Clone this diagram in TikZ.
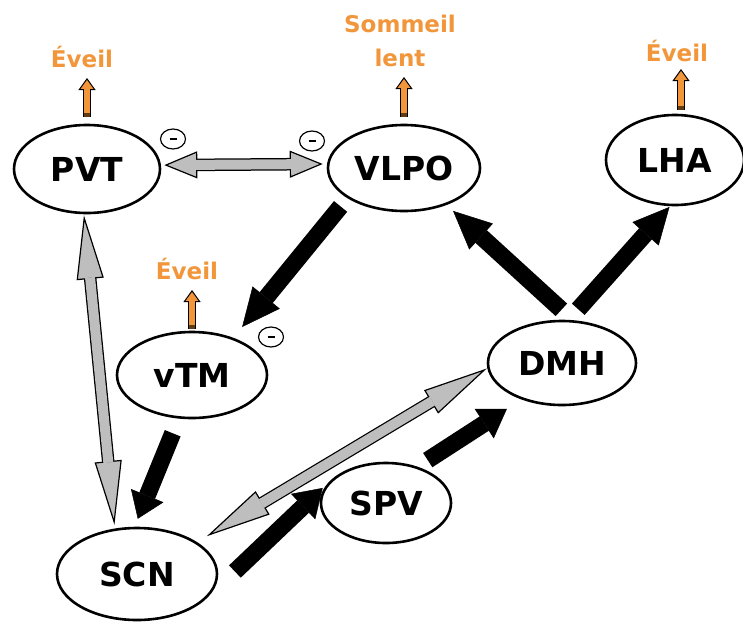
\documentclass[tikz,border=0pt]{standalone}
\usepackage{fontspec}
\setmainfont{DejaVu Sans}
\usetikzlibrary{arrows.meta,shapes.geometric}

\definecolor{wakeorange}{RGB}{241,150,58}
\definecolor{wakebrown}{RGB}{95,60,20}
\definecolor{linkgray}{RGB}{190,190,190}

\tikzset{
  area/.style={ellipse, draw, line width=2.6pt, inner sep=0pt, font=\fontsize{33}{33}\selectfont\bfseries},
  wake/.style={text=wakeorange, inner sep=0pt, align=center, font=\fontsize{23}{34}\selectfont\bfseries},
  minus/.style={ellipse, draw, line width=1.2pt, minimum width=25pt, minimum height=20pt, inner sep=0pt},
  drive/.style={line width=17pt, -{Triangle[length=#1, width=35pt, line width=0.5pt]}},
  drive/.default=30pt,
  link rim/.style={line width=12.5pt, {Triangle[length=#1, width=27pt, line width=1.2pt, fill=linkgray]}-{Triangle[length=#1, width=27pt, line width=1.2pt, fill=linkgray]}},
  link core/.style={line width=10pt, draw=linkgray},
  wake rim/.style={line width=8.5pt, -{Triangle[length=12pt, width=17pt, line width=1pt, fill=wakeorange]}},
  wake core/.style={line width=6.5pt, draw=wakeorange},
  wake foot/.style={line width=6.5pt, draw=wakebrown, dash pattern=on 4pt off 80pt},
}

% gray double arrow: from, to, shorten start, shorten end, head length
\newcommand\twoway[5]{%
  \draw[link rim=#5, shorten <=#3, shorten >=#4] (#1) -- (#2);
  \draw[link core, shorten <=#3+#5-1.5pt, shorten >=#4+#5-1.5pt] (#1) -- (#2);}
% small orange arrow: from, to, shorten start, shorten end
\newcommand\risearrow[4]{%
  \draw[wake rim, shorten <=#3, shorten >=#4] (#1) -- (#2);
  \draw[wake core, shorten <=#3, shorten >=#4+11pt] (#1) -- (#2);
  \draw[wake foot, shorten <=#3] (#1) -- (#2);}

\begin{document}
\begin{tikzpicture}[x=1pt,y=-1pt]
\useasboundingbox (0,0) rectangle (743,621);

% nuclei
\node[area, minimum width=146pt, minimum height=88pt] (pvt) at (87,169) {PVT};
\node[area, minimum width=152pt, minimum height=86pt] (vlpo) at (404,168) {VLPO};
\node[area, minimum width=138pt, minimum height=90pt] (lha) at (675,160) {LHA};
\node[area, minimum width=150pt, minimum height=86pt] (vtm) at (192,375) {vTM};
\node[area, minimum width=148pt, minimum height=84pt] (dmh) at (562,363) {DMH};
\node[area, minimum width=130pt, minimum height=80pt] (spv) at (386,503) {SPV};
\node[area, minimum width=160pt, minimum height=92pt] (scn) at (137,574) {SCN};

% states
\node[wake, anchor=south] (ev1) at (82,68) {Éveil};
\node[wake, anchor=south] (sl) at (400,67) {Sommeil\\lent};
\node[wake, anchor=south] (ev2) at (677,62) {Éveil};
\node[wake, anchor=south] (ev3) at (187,280) {Éveil};

% inhibition marks
\node[minus] (m1) at (173,139) {\rule{7pt}{1.8pt}};
\node[minus] (m2) at (312,141) {\rule{7pt}{1.8pt}};
\node[minus] (m3) at (271,337) {\rule{7pt}{1.8pt}};

% outputs
\coordinate (lhatop) at ([xshift=6pt]lha.north);
\risearrow{pvt.north}{pvt.north |- ev1.south}{7pt}{10pt}
\risearrow{vlpo.north}{vlpo.north |- sl.south}{7pt}{10pt}
\risearrow{lhatop}{lhatop |- ev2.south}{4pt}{7pt}
\risearrow{vtm.north}{vtm.north |- ev3.south}{2pt}{10pt}

% projections
\draw[drive=38pt, shorten <=10.7pt, shorten >=13.9pt] (vlpo.208) -- (vtm.42);
\draw[drive=25pt, shorten <=15.8pt, shorten >=8.6pt] (vtm.253) -- (scn.93);
\draw[drive=38pt, shorten <=15.3pt, shorten >=8.8pt] (dmh.76) -- (vlpo.319);
\draw[drive=36pt, shorten <=14.2pt, shorten >=1pt] (dmh.81) -- (lha.264);
\draw[drive=27pt, shorten <=40pt, shorten >=8.4pt] (scn.340) -- (spv.160);
\draw[drive=27pt, shorten <=12.1pt, shorten >=17.4pt] (spv.49) -- (dmh.222);

% reciprocal links
\twoway{pvt.3}{vlpo.177}{3.3pt}{4.3pt}{33pt}
\twoway{pvt.266}{scn.116}{1pt}{3.7pt}{64pt}
\twoway{scn.28}{dmh.184}{11.5pt}{0.5pt}{65pt}
\end{tikzpicture}
\end{document}
